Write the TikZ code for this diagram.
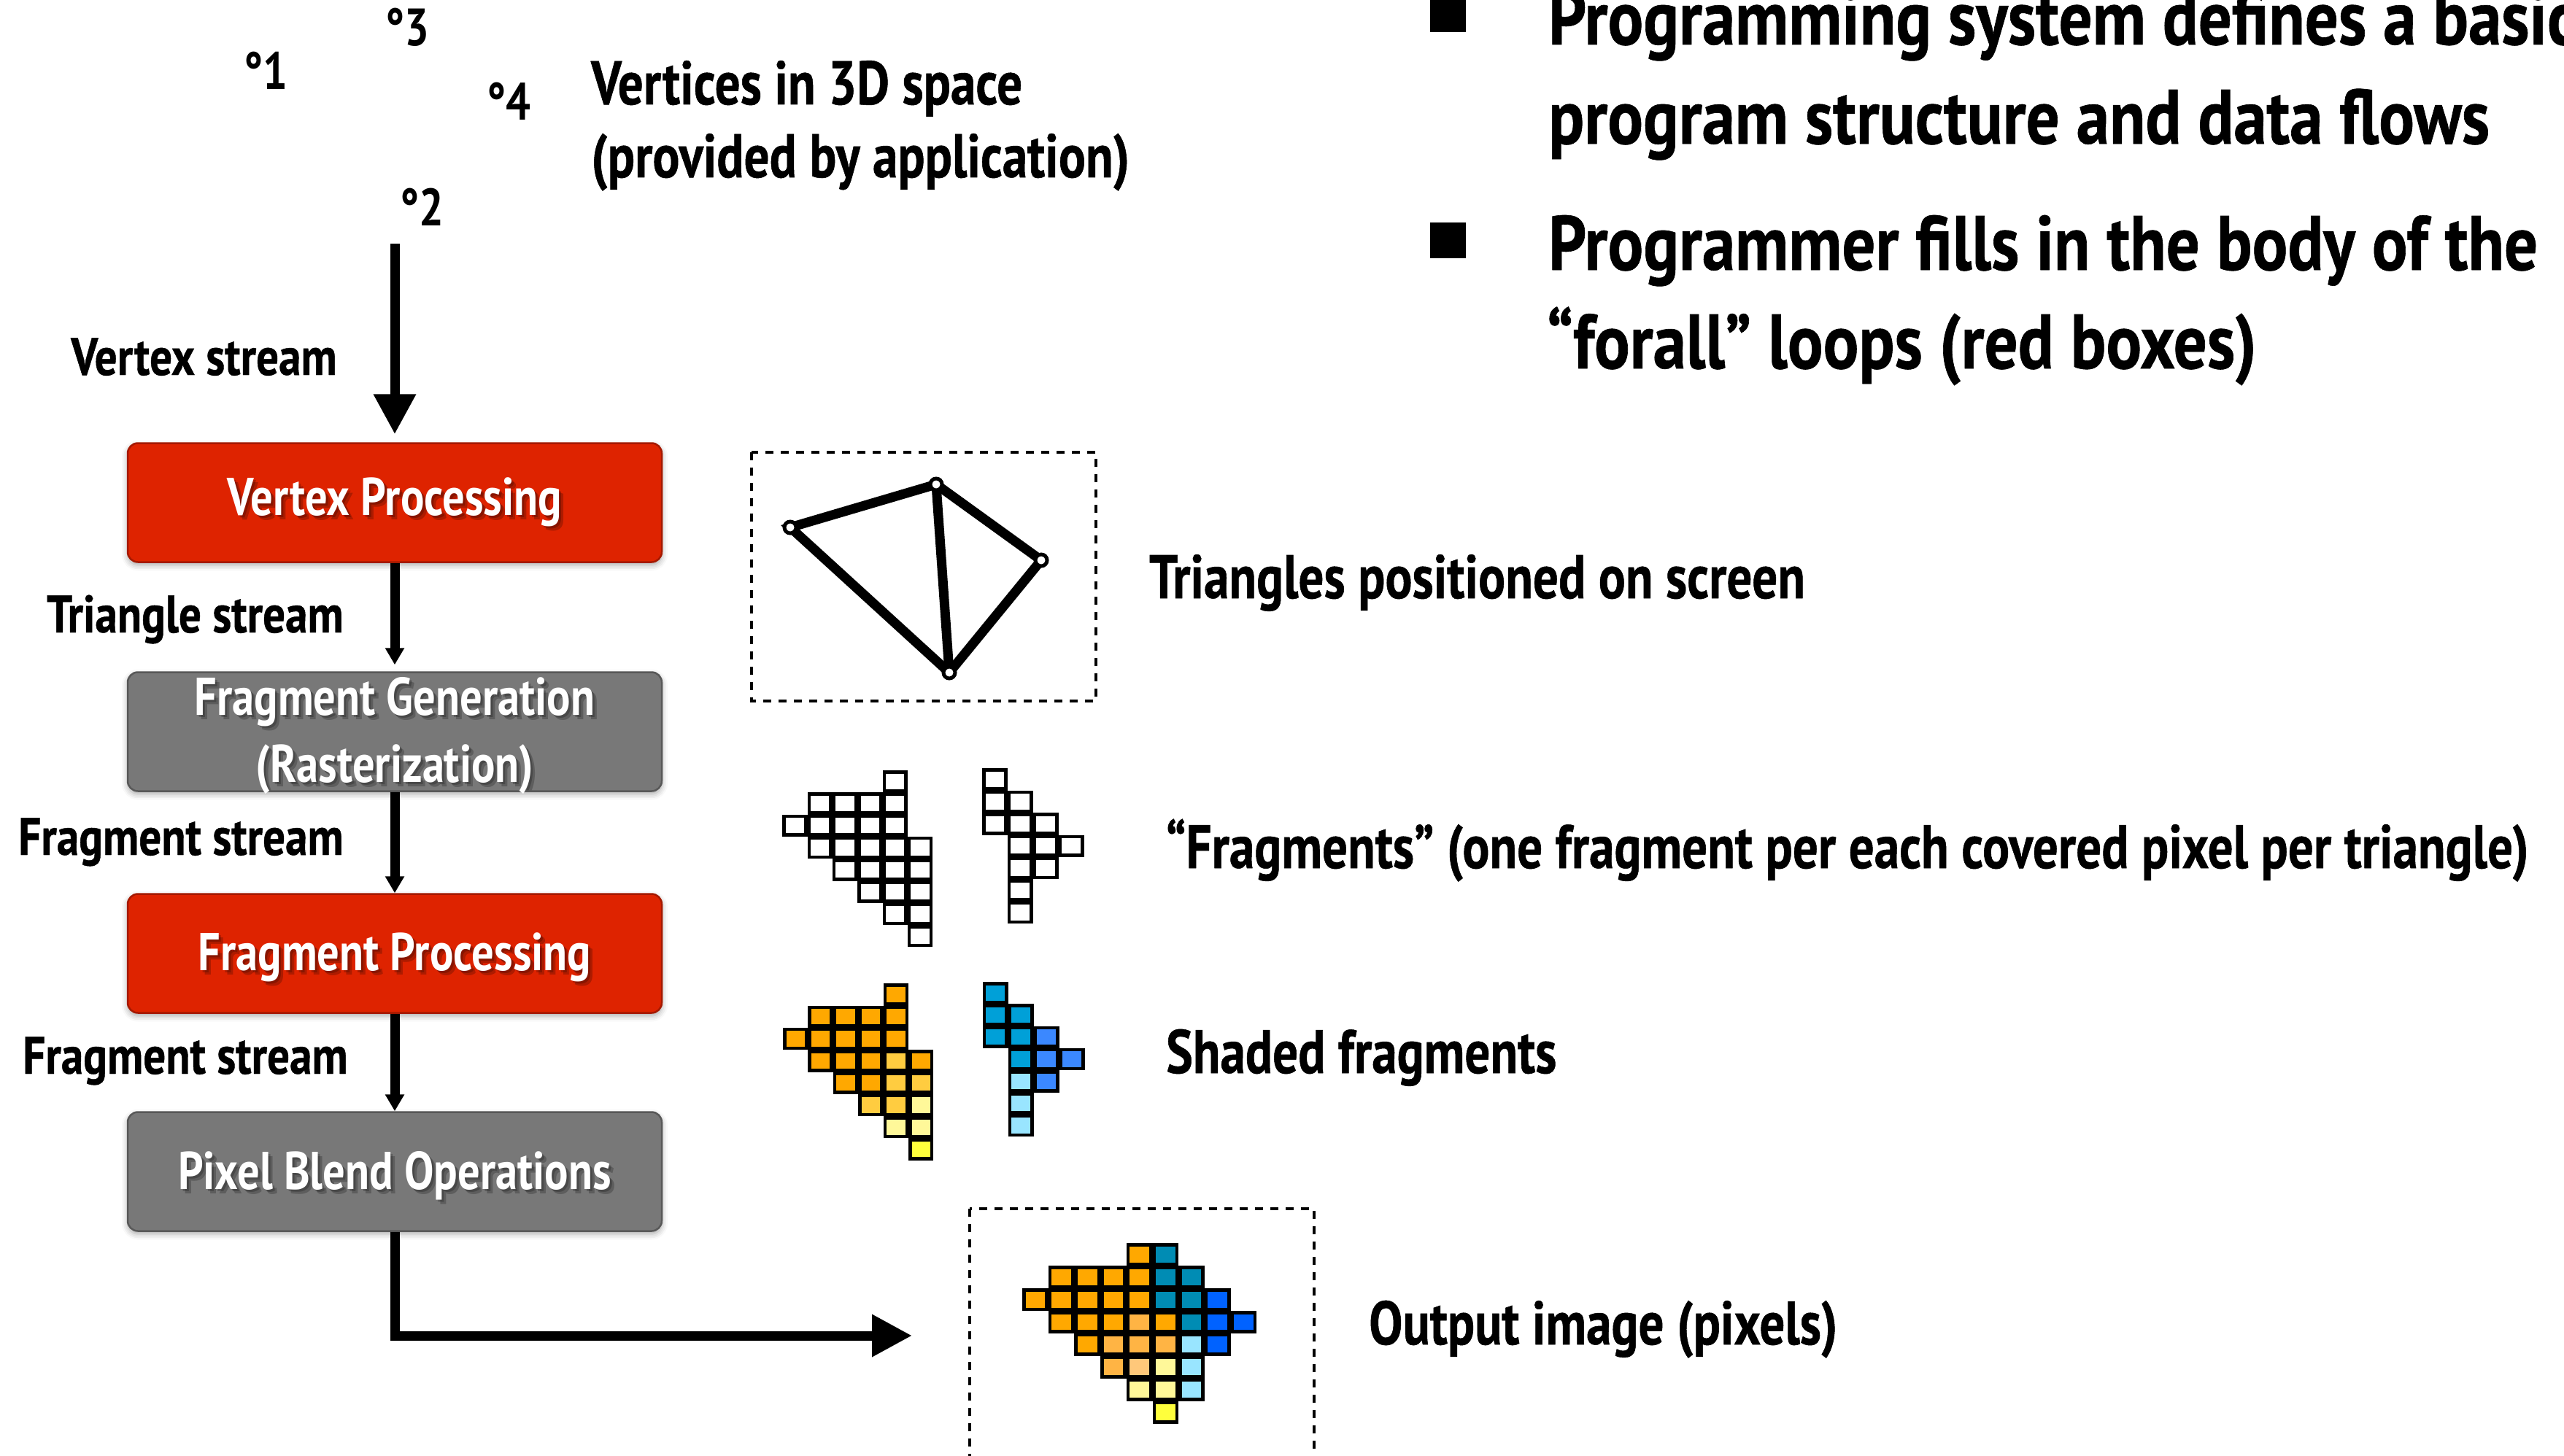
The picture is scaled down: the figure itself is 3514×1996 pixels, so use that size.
\documentclass[tikz,border=0pt]{standalone}
\usepackage{fontspec}
\setmainfont{PT Sans}
\newfontfamily\labfont{PT Sans}[FakeStretch=0.845, FakeBold=0.6]
\newfontfamily\midfont{PT Sans}[FakeStretch=0.82, FakeBold=0.6]
\newfontfamily\bigfont{PT Sans}[FakeStretch=0.86, FakeBold=0.6]
\newfontfamily\boxfont{PT Sans}[FakeStretch=0.83]
\usetikzlibrary{arrows.meta,shadows.blur}

\definecolor{stagered}{RGB}{222,35,0}
\definecolor{stageredline}{RGB}{165,25,0}
\definecolor{stagegray}{RGB}{120,120,120}
\definecolor{stagegrayline}{RGB}{88,88,88}
\definecolor{pxor}{RGB}{255,168,0}
\definecolor{pxlo}{RGB}{255,204,64}
\definecolor{pxlt}{RGB}{255,180,68}
\definecolor{pxpe}{RGB}{255,200,122}
\definecolor{pxpy}{RGB}{255,248,153}
\definecolor{pxye}{RGB}{255,255,60}
\definecolor{pxtl}{RGB}{0,140,180}
\definecolor{pxcy}{RGB}{0,160,216}
\definecolor{pxbl}{RGB}{59,136,255}
\definecolor{pxdb}{RGB}{0,98,255}
\definecolor{pxlc}{RGB}{153,229,255}

% one pixel grid: origin x, origin y, cell width, cell height, list of col/row/colour
\newcommand\pixgrid[5]{%
  \foreach \cc/\rr/\cl in {#5}{%
    \draw[pixcell, fill=\cl] ({#1+\cc*#3+2.25},{#2+\rr*#4+2.25}) rectangle ++({#3-4.5},{#4-4.5});
  }}

\begin{document}
\begin{tikzpicture}[x=1pt, y=-1pt,
  lab/.style={font=\labfont\bfseries\fontsize{72.4}{80}\selectfont, inner sep=0pt},
  mid/.style={font=\midfont\bfseries\fontsize{84.3}{92}\selectfont, inner sep=0pt},
  big/.style={font=\bigfont\bfseries\fontsize{105.7}{120}\selectfont, inner sep=0pt},
  vnum/.style={font=\boxfont\bfseries\fontsize{72}{76}\selectfont, inner sep=0pt},
  stagefont/.style={font=\boxfont\bfseries\fontsize{72.9}{92}\selectfont},
  % stage box: first argument is its text (for the drop shadow), second the text depth
  stage/.style 2 args={rectangle, rounded corners=14pt, minimum width=732pt,
    minimum height=163pt, inner sep=0pt, line width=2.5pt, text=white,
    stagefont, align=center, text depth=#2,
    blur shadow={shadow xshift=0pt, shadow yshift=-4pt,
      shadow blur radius=8pt, shadow opacity=35},
    path picture={
      \node[stagefont, align=center, text=black, text opacity=.22,
        text depth=#2, draw=none, fill=none]
        at ([xshift=3pt,yshift=-3pt]path picture bounding box.center) {#1};
      \node[stagefont, align=center, text=black, text opacity=.22,
        text depth=#2, draw=none, fill=none]
        at ([xshift=6pt,yshift=-6pt]path picture bounding box.center) {#1};
    }},
  redstage/.style 2 args={stage={#1}{#2}, fill=stagered, draw=stageredline},
  graystage/.style 2 args={stage={#1}{#2}, fill=stagegray, draw=stagegrayline},
  bigarrow/.style={line width=13pt, -{Triangle[length=55pt,width=55pt]}},
  smallarrow/.style={line width=13pt, -{Triangle[length=23pt,width=25pt]}},
  dashbox/.style={line width=4pt, dash pattern=on 11pt off 10pt},
  edge/.style={line width=13pt, line cap=round},
  vtx/.style={circle, draw, fill=white, line width=5pt, minimum size=16pt, inner sep=0pt},
  pixcell/.style={draw=black, line width=4.5pt},
  bulletsq/.style={fill=black, minimum size=49pt, inner sep=0pt}
]
\useasboundingbox (0,0) rectangle (3514,1996);
\begin{scope}
\clip (0,0) rectangle (3514,1996);

% input vertices
\node[vnum, anchor=base west] (n3) at (528,63) {°3};
\node[vnum, anchor=base west] (n1) at (334,123) {°1};
\node[vnum, anchor=base west] (n4) at (667,165) {°4};
\node[vnum, anchor=base west] (n2) at (548,309) {°2};
\node[mid, anchor=base west] (v3da) at (810,143) {Vertices in 3D space};
\node[mid, anchor=base west] (v3db) at (810,243) {(provided by application)};

% pipeline stages
\node[redstage={Vertex Processing}{16pt}] (vp) at (541,689) {Vertex Processing};
\node[graystage={Fragment Generation\\(Rasterization)}{5pt}] (fg) at (541,1003) {Fragment Generation\\(Rasterization)};
\node[redstage={Fragment Processing}{5pt}] (fp) at (541,1307) {Fragment Processing};
\node[graystage={Pixel Blend Operations}{4pt}] (pb) at (541,1606) {Pixel Blend Operations};

% streams between stages
\coordinate (vsrc) at (541,334);
\draw[bigarrow, shorten >=11pt] (vsrc) -- (vp.north);
\draw[smallarrow, shorten >=9pt] (vp.south) -- (fg.north);
\draw[smallarrow] (fg.south) -- (fp.north);
\draw[smallarrow] (fp.south) -- (pb.north);
\coordinate (bend) at (541,1831);
\coordinate (outtip) at (1250,1831);
\draw[bigarrow] (pb.south) -- (bend) -- (outtip);

\node[lab, anchor=base east] (vs) at (462,514) {Vertex stream};
\node[lab, anchor=base east] (ts) at (471,867) {Triangle stream};
\node[lab, anchor=base east] (fs1) at (471,1172) {Fragment stream};
\node[lab, anchor=base east] (fs2) at (477,1472) {Fragment stream};

% triangles on screen
\draw[dashbox] (1030,620) rectangle (1502,961);
\coordinate (ta) at (1083,723);
\coordinate (tb) at (1283,664);
\coordinate (tc) at (1427,768);
\coordinate (td) at (1301,922);
\draw[edge] (ta) -- (tb) -- (tc) -- (td) -- cycle;
\draw[edge] (tb) -- (td);
\node[vtx] (va) at (ta) {};
\node[vtx] (vb) at (tb) {};
\node[vtx] (vc) at (tc) {};
\node[vtx] (vd) at (td) {};
\node[mid, anchor=base west] (tri) at (1575,820) {Triangles positioned on screen};

% fragments
\pixgrid{1072.3}{1056}{34.33}{30.3}{4/0/white,
  1/1/white,2/1/white,3/1/white,4/1/white,
  0/2/white,1/2/white,2/2/white,3/2/white,4/2/white,
  1/3/white,2/3/white,3/3/white,4/3/white,5/3/white,
  2/4/white,3/4/white,4/4/white,5/4/white,
  3/5/white,4/5/white,5/5/white,
  4/6/white,5/6/white,
  5/7/white}
\pixgrid{1346}{1053.3}{34.9}{30.4}{0/0/white,
  0/1/white,1/1/white,
  0/2/white,1/2/white,2/2/white,
  1/3/white,2/3/white,3/3/white,
  1/4/white,2/4/white,
  1/5/white,
  1/6/white}
\node[mid, anchor=base west] (frg) at (1598,1190) {“Fragments” (one fragment per each covered pixel per triangle)};

% shaded fragments
\pixgrid{1073}{1348.3}{34.4}{30.3}{4/0/pxor,
  1/1/pxor,2/1/pxor,3/1/pxor,4/1/pxor,
  0/2/pxor,1/2/pxor,2/2/pxor,3/2/pxor,4/2/pxor,
  1/3/pxor,2/3/pxor,3/3/pxor,4/3/pxlo,5/3/pxor,
  2/4/pxor,3/4/pxor,4/4/pxlo,5/4/pxlo,
  3/5/pxlo,4/5/pxlo,5/5/pxpy,
  4/6/pxpy,5/6/pxpy,
  5/7/pxye}
\pixgrid{1346.7}{1346}{35}{30.3}{0/0/pxcy,
  0/1/pxcy,1/1/pxcy,
  0/2/pxcy,1/2/pxcy,2/2/pxbl,
  1/3/pxcy,2/3/pxbl,3/3/pxbl,
  1/4/pxlc,2/4/pxbl,
  1/5/pxlc,
  1/6/pxlc}
\node[mid, anchor=base west] (shd) at (1598,1471) {Shaded fragments};

% output image
\draw[dashbox] (1329,1657) rectangle (1801,2100);
\pixgrid{1401}{1704.3}{35.7}{30.9}{4/0/pxor,5/0/pxtl,
  1/1/pxor,2/1/pxor,3/1/pxor,4/1/pxor,5/1/pxtl,6/1/pxtl,
  0/2/pxor,1/2/pxor,2/2/pxor,3/2/pxor,4/2/pxor,5/2/pxtl,6/2/pxtl,7/2/pxdb,
  1/3/pxor,2/3/pxor,3/3/pxor,4/3/pxlt,5/3/pxor,6/3/pxtl,7/3/pxdb,8/3/pxdb,
  2/4/pxor,3/4/pxlt,4/4/pxlt,5/4/pxlt,6/4/pxlc,7/4/pxdb,
  3/5/pxlt,4/5/pxpe,5/5/pxpy,6/5/pxlc,
  4/6/pxpy,5/6/pxpy,6/6/pxlc,
  5/7/pxye}
\node[mid, anchor=base west] (out) at (1876,1843) {Output image (pixels)};

% bullet points
\node[bulletsq] (b1) at (1984.5,19.5) {};
\node[big, anchor=base west] (b1a) at (2122,61) {Programming system defines a basic};
\node[big, anchor=base west] (b1b) at (2122,197) {program structure and data flows};
\node[bulletsq] (b2) at (1984.5,329.5) {};
\node[big, anchor=base west] (b2a) at (2122,370) {Programmer fills in the body of the};
\node[big, anchor=base west] (b2b) at (2120,505) {“forall” loops (red boxes)};
\end{scope}
\end{tikzpicture}
\end{document}
